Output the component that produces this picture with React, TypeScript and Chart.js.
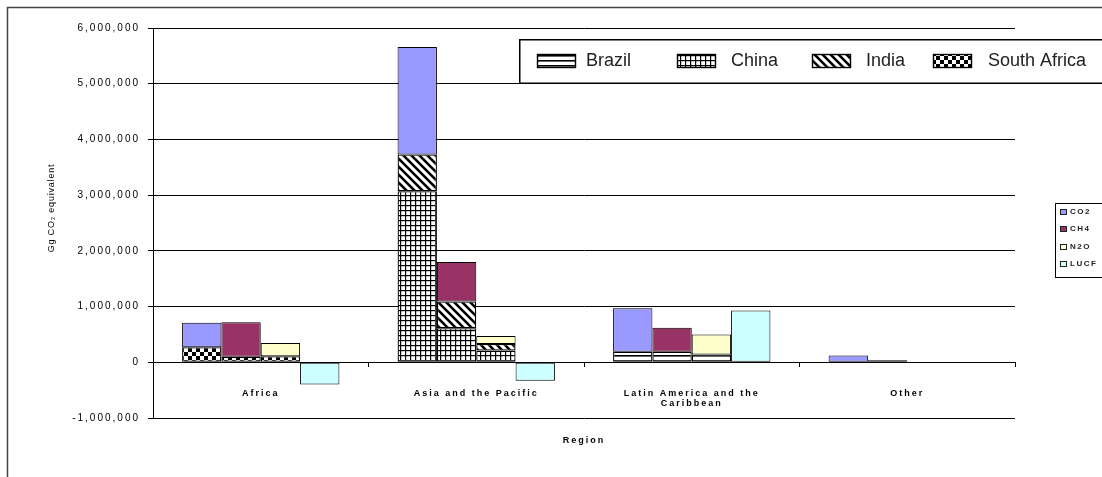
import React, { useEffect, useRef } from 'react';
import { Chart, registerables } from 'chart.js';

Chart.register(...registerables);

const FONT = '"Liberation Sans", Arial, sans-serif';

// Categories and legend labels
const regions = [['Africa'], ['Asia and the Pacific'], ['Latin America and the', 'Caribbean'], ['Other']];
const gases = ['CO2', 'CH4', 'N2O', 'LUCF'];
const countries = ['Brazil', 'China', 'India', 'South Africa'];
const gasColors = ['#9999FF', '#993366', '#FFFFCC', '#CCFFFF'];

// Axis range (Gg CO2 equivalent)
const yMin = -1000000;
const yMax = 6000000;
const yStep = 1000000;

// Regional totals per gas
const co2Total = [710000, 5660000, 970000, 120000];
const ch4Total = [720000, 1800000, 620000, 35000];
const n2oTotal = [345000, 470000, 500000, 0];
const lucfTotal = [-400000, -330000, 930000, 0];

// Country portions (stacked at the bottom of the regional bars)
const brazilCo2 = [0, 0, 190000, 0];
const brazilCh4 = [0, 0, 190000, 0];
const brazilN2o = [0, 0, 140000, 0];
const chinaCo2 = [0, 3070000, 0, 0];
const chinaCh4 = [0, 610000, 0, 0];
const chinaN2o = [0, 210000, 0, 0];
const indiaCo2 = [0, 660000, 0, 0];
const indiaCh4 = [0, 480000, 0, 0];
const indiaN2o = [0, 120000, 0, 0];
const southAfricaCo2 = [270000, 0, 0, 0];
const southAfricaCh4 = [100000, 0, 0, 0];
const southAfricaN2o = [110000, 0, 0, 0];

function tile(w: number, h: number, draw: (c: CanvasRenderingContext2D) => void) {
  const cv = document.createElement('canvas');
  cv.width = w;
  cv.height = h;
  const c = cv.getContext('2d')!;
  c.fillStyle = '#fff';
  c.fillRect(0, 0, w, h);
  c.fillStyle = '#000';
  c.strokeStyle = '#000';
  draw(c);
  return c.createPattern(cv, 'repeat')!;
}

function makePatterns() {
  const hLines = tile(6, 5, (c) => c.fillRect(0, 0, 6, 1.6));
  const grid = tile(5, 5, (c) => {
    c.fillRect(0, 0, 5, 1.2);
    c.fillRect(0, 0, 1.2, 5);
  });
  const diag = tile(8, 8, (c) => {
    c.lineWidth = 2.6;
    for (const k of [-8, 0, 8]) {
      c.beginPath();
      c.moveTo(-2, k - 2);
      c.lineTo(10, k + 10);
      c.stroke();
    }
  });
  const checker = tile(8, 8, (c) => {
    c.fillRect(0, 0, 4, 4);
    c.fillRect(4, 4, 4, 4);
  });
  return [hLines, grid, diag, checker];
}

function remainder(total: number[], parts: number[][]) {
  return total.map((t, i) => t - parts.reduce((s, p) => s + p[i], 0));
}

export default function App() {
  const ref = useRef<HTMLCanvasElement>(null);

  useEffect(() => {
    const canvas = ref.current!;
    const patterns = makePatterns();

    const gasParts = [
      [brazilCo2, chinaCo2, indiaCo2, southAfricaCo2],
      [brazilCh4, chinaCh4, indiaCh4, southAfricaCh4],
      [brazilN2o, chinaN2o, indiaN2o, southAfricaN2o],
    ];
    const gasTotals = [co2Total, ch4Total, n2oTotal];

    const datasets: any[] = [];
    gasTotals.forEach((total, gi) => {
      const parts = gasParts[gi];
      countries.forEach((c, ci) => {
        datasets.push({
          label: c + ' ' + gases[gi],
          data: parts[ci],
          stack: gases[gi],
          backgroundColor: patterns[ci],
          borderColor: '#000',
          borderWidth: 1.3,
          borderSkipped: false,
        });
      });
      datasets.push({
        label: gases[gi],
        data: remainder(total, parts),
        stack: gases[gi],
        backgroundColor: gasColors[gi],
        borderColor: '#000',
        borderWidth: 1,
        borderSkipped: false,
      });
    });
    datasets.push({
      label: gases[3],
      data: lucfTotal,
      stack: gases[3],
      backgroundColor: gasColors[3],
      borderColor: '#000',
      borderWidth: 1,
      borderSkipped: false,
    });

    const decor = {
      id: 'decor',
      beforeDraw(chart: any) {
        const ctx = chart.ctx as CanvasRenderingContext2D;
        ctx.save();
        ctx.fillStyle = '#fff';
        ctx.fillRect(0, 0, chart.width, chart.height);
        ctx.strokeStyle = '#444';
        ctx.lineWidth = 1.5;
        ctx.strokeRect(7.5, 7.5, 3000, 3000);
        ctx.restore();
        (ctx as any).letterSpacing = '2px';
      },
      afterDraw(chart: any) {
        const ctx = chart.ctx as CanvasRenderingContext2D;
        ctx.save();
        (ctx as any).letterSpacing = '0px';
        // country legend
        ctx.fillStyle = '#fff';
        ctx.fillRect(519, 39, 800, 44);
        ctx.strokeStyle = '#000';
        ctx.lineWidth = 1.5;
        ctx.strokeRect(519.75, 39.75, 800, 43.5);
        const sx = [537, 677, 812, 933];
        const tx = [586, 731, 866, 988];
        countries.forEach((name, i) => {
          ctx.fillStyle = patterns[i];
          ctx.fillRect(sx[i], 54, 38, 13);
          ctx.lineWidth = 1.4;
          ctx.strokeStyle = '#000';
          ctx.strokeRect(sx[i] + 0.5, 54.5, 38, 13);
          ctx.fillStyle = '#222';
          ctx.font = '18px ' + FONT;
          ctx.textBaseline = 'middle';
          ctx.textAlign = 'left';
          ctx.fillText(name, tx[i], 61);
        });
        // gas legend
        ctx.fillStyle = '#fff';
        ctx.fillRect(1055, 203, 100, 74);
        ctx.lineWidth = 1;
        ctx.strokeStyle = '#000';
        ctx.strokeRect(1055.5, 203.5, 100, 74);
        const ys = [212, 229, 247, 264];
        (ctx as any).letterSpacing = '1.5px';
        gases.forEach((g, i) => {
          ctx.fillStyle = gasColors[i];
          ctx.fillRect(1060, ys[i] - 3, 7, 6);
          ctx.strokeStyle = '#222';
          ctx.strokeRect(1060.5, ys[i] - 2.5, 6, 5);
          ctx.fillStyle = '#222';
          ctx.font = 'bold 8px ' + FONT;
          ctx.textBaseline = 'middle';
          ctx.fillText(g, 1070, ys[i]);
        });
        ctx.restore();
      },
    };

    const chart = new Chart(canvas, {
      type: 'bar',
      data: { labels: regions as any, datasets },
      plugins: [decor],
      options: {
        animation: false,
        responsive: false,
        layout: { padding: { left: 0, top: 28, right: 87, bottom: 30.6 } },
        plugins: {
          legend: { display: false },
          tooltip: { enabled: false },
          title: {
            display: true,
            text: 'Region',
            position: 'bottom',
            fullSize: false,
            color: '#000',
            font: { size: 9, weight: 'bold', family: FONT },
            padding: { top: 17.6, bottom: 0 },
          },
        },
        datasets: { bar: { categoryPercentage: 0.73, barPercentage: 1 } },
        scales: {
          x: {
            type: 'category',
            stacked: true,
            position: { y: 0 } as any,
            offset: true,
            grid: {
              display: true,
              drawOnChartArea: false,
              drawTicks: true,
              tickLength: 4,
              color: '#000',
              offset: true,
            },
            border: { display: true, color: '#000', width: 1 },
            ticks: {
              padding: 21.5,
              color: '#000',
              font: { size: 9, weight: 'bold', family: FONT },
              maxRotation: 0,
              autoSkip: false,
            },
            afterFit: (s: any) => {
              s.height = 20;
            },
          },
          y: {
            stacked: true,
            min: yMin,
            max: yMax,
            ticks: {
              stepSize: yStep,
              color: '#000',
              padding: 8,
              font: { size: 10, family: FONT },
              callback: (v: any) => Number(v).toLocaleString('en-US'),
            },
            grid: { color: '#000', lineWidth: 1, tickLength: 5 },
            border: { color: '#000', width: 1 },
            title: {
              display: true,
              text: 'Gg CO\u2082 equivalent',
              color: '#000',
              font: { size: 9, family: FONT },
              padding: { top: 46.6, bottom: 0 },
            },
            afterFit: (s: any) => {
              s.width = 153;
              if (!s.__patched) {
                const orig = s.drawTitle.bind(s);
                s.drawTitle = () => {
                  const c = s.ctx;
                  c.save();
                  c.letterSpacing = '0.8px';
                  c.translate(0, -15);
                  orig();
                  c.restore();
                };
                s.__patched = true;
              }
            },
          },
        },
      } as any,
    });
    return () => chart.destroy();
  }, []);

  return (
    <div style={{ position: 'absolute', left: 0, top: 0, width: 1102, height: 477, background: '#fff' }}>
      <canvas ref={ref} width={1102} height={477} style={{ display: 'block', width: 1102, height: 477 }} />
    </div>
  );
}
